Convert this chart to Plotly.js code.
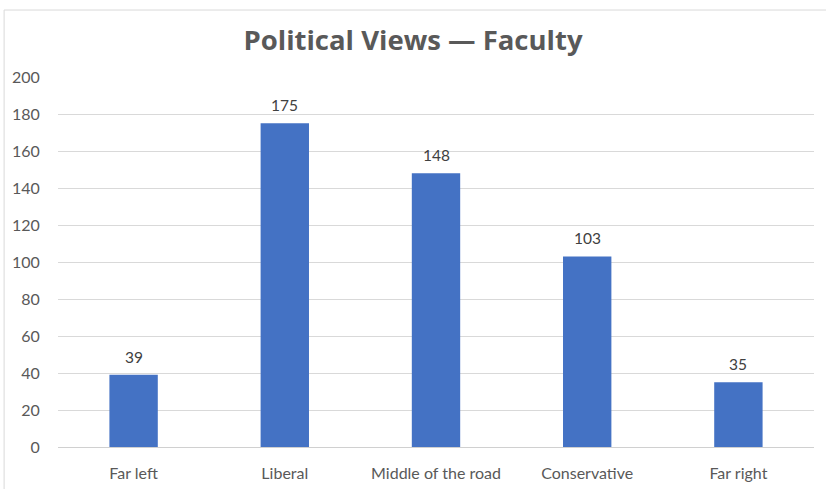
<!DOCTYPE html>
<html>
<head>
<meta charset="utf-8">
<script src="https://cdn.plot.ly/plotly-3.0.1.min.js"></script>
<style>
  html, body { margin: 0; padding: 0; background: #ffffff; }
  #chart { width: 826px; height: 489px; }
</style>
</head>
<body>
<div id="chart"></div>
<script>
const categories = ["Far left", "Liberal", "Middle of the road", "Conservative", "Far right"];
const counts = [39, 175, 148, 103, 35];
const yTicks = [0, 20, 40, 60, 80, 100, 120, 140, 160, 180, 200];
const chartTitle = "Political Views \u2014 Faculty";

const labelFont = { family: "Lato, 'Open Sans', sans-serif", size: 15.5, color: "#404040" };

const trace = {
  type: "bar",
  x: categories,
  y: counts,
  marker: { color: "#4472C4" },
  hoverinfo: "x+y"
};

const annotations = categories.map((c, i) => ({
  x: c,
  y: counts[i],
  xref: "x",
  yref: "y",
  text: String(counts[i]),
  showarrow: false,
  yanchor: "bottom",
  yshift: 7,
  font: labelFont
}));

const layout = {
  width: 826,
  height: 489,
  margin: { l: 58, r: 12, t: 77, b: 42 },
  paper_bgcolor: "#ffffff",
  plot_bgcolor: "#ffffff",
  bargap: 0.68,
  showlegend: false,
  title: {
    text: "<b>" + chartTitle + "</b>",
    x: 0.5,
    xanchor: "center",
    y: 0.918,
    yanchor: "middle",
    font: { family: "'Open Sans', Roboto, sans-serif", size: 27.5, color: "#595959" }
  },
  xaxis: {
    type: "category",
    showgrid: false,
    zeroline: false,
    showline: false,
    ticks: "outside",
    ticklen: 12,
    tickcolor: "rgba(0,0,0,0)",
    tickfont: { family: "Lato, 'Open Sans', sans-serif", size: 16, color: "#595959" }
  },
  yaxis: {
    range: [0, 200],
    tickvals: yTicks,
    ticktext: yTicks.map(String),
    showgrid: true,
    gridcolor: "#d9d9d9",
    gridwidth: 1,
    zeroline: true,
    zerolinecolor: "#d0d0d0",
    zerolinewidth: 1,
    showline: false,
    ticks: "outside",
    ticklen: 14,
    tickcolor: "rgba(0,0,0,0)",
    tickfont: { family: "Lato, 'Open Sans', sans-serif", size: 16, color: "#595959" }
  },
  annotations: annotations,
  shapes: [{
    type: "rect",
    xref: "paper",
    yref: "paper",
    x0: -0.0713,
    x1: 1.025,
    y0: -0.14,
    y1: 1.181,
    line: { color: "#d9d9d9", width: 1 },
    fillcolor: "rgba(0,0,0,0)",
    layer: "below"
  }]
};

Plotly.newPlot("chart", [trace], layout, { displayModeBar: false, staticPlot: true });
</script>
</body>
</html>
